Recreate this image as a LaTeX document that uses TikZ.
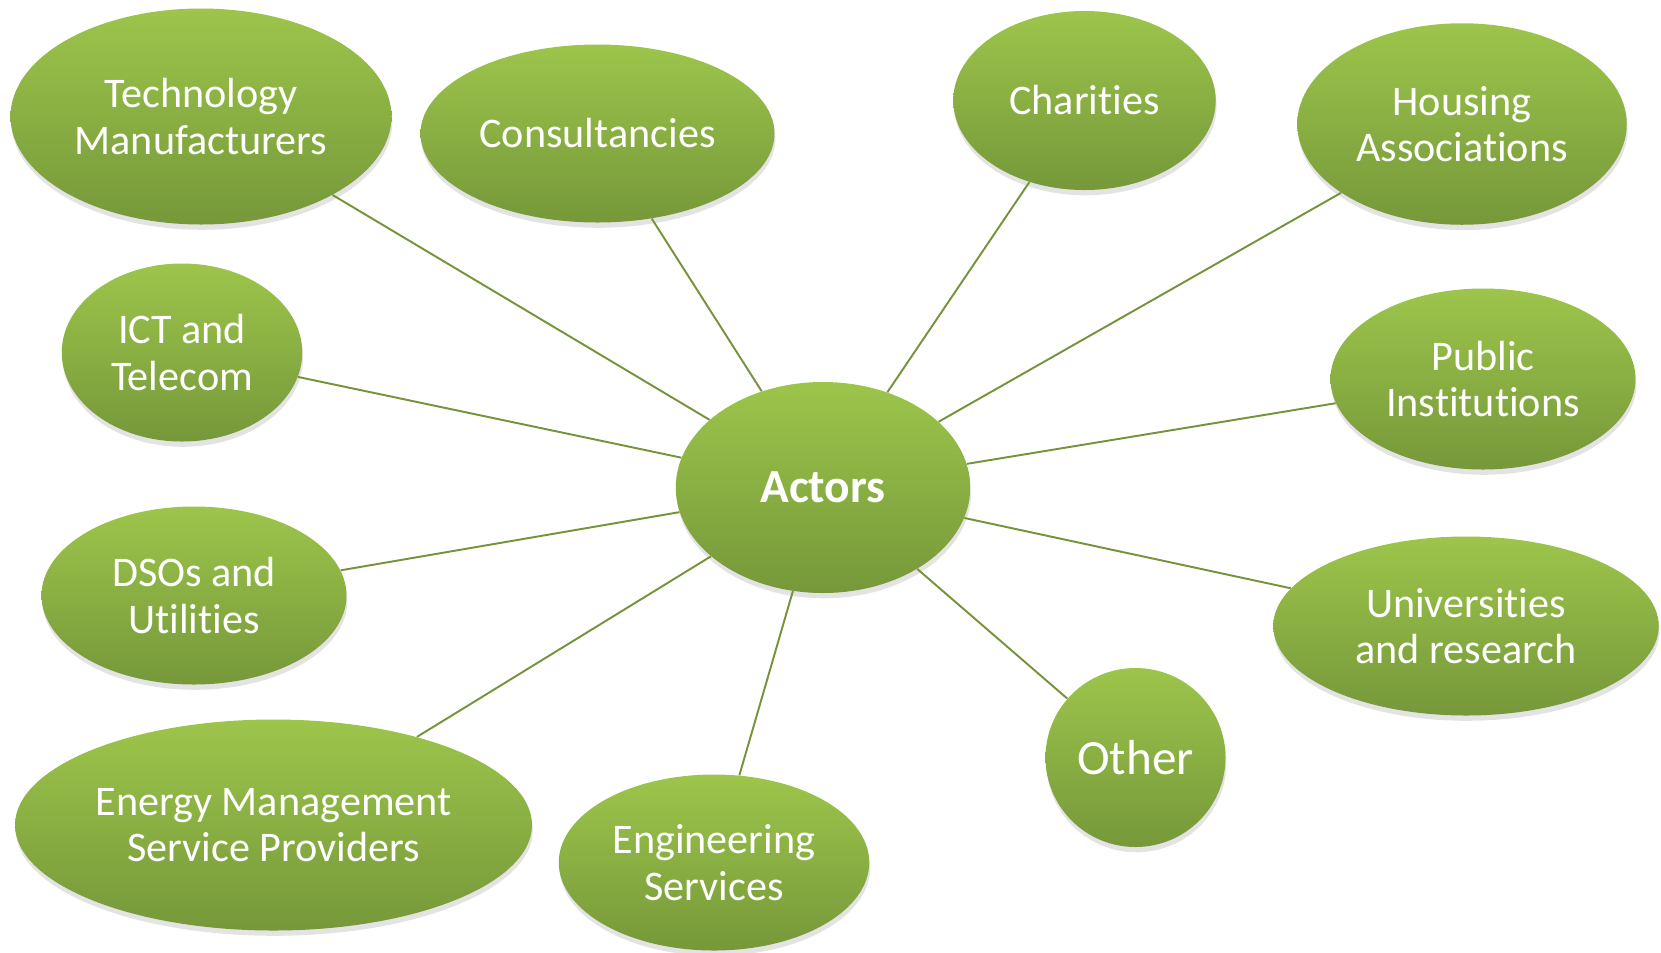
\documentclass[tikz,border=0pt]{standalone}
\usepackage{fontspec}
\setmainfont{Carlito}[RawFeature={-liga;-clig;-calt;-dlig}]
\usetikzlibrary{shapes.geometric,shadows}
\definecolor{leaftop}{HTML}{9DC54B}
\definecolor{leafbottom}{HTML}{76983A}
\definecolor{stem}{HTML}{76933C}

\begin{document}
\begin{tikzpicture}[
    bubble/.style={ellipse, inner sep=0pt, draw=none, top color=leaftop, bottom color=leafbottom,
        text=white, align=center, font=\fontsize{24}{26.5}\selectfont,
        drop shadow={opacity=0.22, shadow xshift=0.5pt, shadow yshift=-3pt}},
    stem/.style={draw=stem, line width=1.1pt}]
                \useasboundingbox (0,0) rectangle (33.22,-19.04);
                \node[bubble, minimum width=5.89cm, minimum height=4.22cm, font=\fontsize{27}{30}\selectfont\bfseries] (0) at (16.46,-9.75) {Actors};
                \node[bubble, minimum width=7.62cm, minimum height=4.32cm] (1) at (4.02,-2.33) {Technology\\Manufacturers};
                \node[bubble, minimum width=7.08cm, minimum height=3.56cm] (2) at (11.95,-2.67) {Consultancies};
                \node[bubble, minimum width=5.25cm, minimum height=3.58cm] (3) at (21.69,-2.01) {Charities};
                \node[bubble, minimum width=6.59cm, minimum height=4.03cm] (4) at (29.24,-2.48) {Housing\\Associations};
                \node[bubble, minimum width=4.81cm, minimum height=3.56cm] (5) at (3.64,-7.05) {ICT and\\Telecom};
                \node[bubble, minimum width=6.10cm, minimum height=3.62cm] (6) at (29.66,-7.58) {Public\\Institutions};
                \node[bubble, minimum width=6.10cm, minimum height=3.56cm] (7) at (3.88,-11.91) {DSOs and\\Utilities};
                \node[bubble, minimum width=7.71cm, minimum height=3.58cm] (8) at (29.32,-12.52) {Universities\\and research};
                \node[bubble, minimum width=10.34cm, minimum height=4.22cm] (9) at (5.47,-16.50) {Energy Management\\Service Providers};
                \node[bubble, minimum width=6.21cm, minimum height=3.52cm] (10) at (14.28,-17.25) {Engineering\\Services};
                \node[bubble, minimum width=3.60cm, minimum height=3.58cm, font=\fontsize{28}{32}\selectfont] (11) at (22.71,-15.15) {Other};
                \draw[stem] (0) -- (1);
                \draw[stem] (0) -- (2);
                \draw[stem] (0) -- (3);
                \draw[stem] (0) -- (4);
                \draw[stem] (0) -- (5);
                \draw[stem] (0) -- (6);
                \draw[stem] (0) -- (7);
                \draw[stem] (0) -- (8);
                \draw[stem] (0) -- (9);
                \draw[stem] (0) -- (10);
                \draw[stem] (0) -- (11);
            \end{tikzpicture}
\end{document}
